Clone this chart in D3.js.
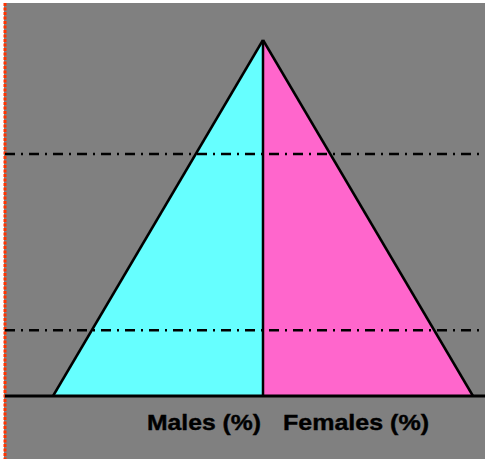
<!DOCTYPE html>
<html>
<head>
<meta charset="utf-8">
<script src="https://cdn.jsdelivr.net/npm/d3@7"></script>
<style>
  html, body { margin: 0; padding: 0; background: #ffffff; }
  svg { display: block; }
</style>
</head>
<body>
<div id="chart"></div>
<script>
// age pyramid outline: age vs share at the base
const ages = [0, 100];
const malePct = [10, 0];
const femalePct = [10, 0];
const refAges = [68, 18.5];
const sexLabels = ["Males (%)", "Females (%)"];

const w = 485;
const h = 459;

const svg = d3.select("#chart")
  .append("svg")
  .attr("width", w)
  .attr("height", h);

// gray plot background
svg.append("rect")
  .attr("x", 4).attr("y", 3)
  .attr("width", w - 4).attr("height", h - 3)
  .attr("fill", "#808080");

// red dotted edge on the left
svg.append("line")
  .attr("x1", 5).attr("x2", 5)
  .attr("y1", 3).attr("y2", h)
  .attr("stroke", "#ff3300")
  .attr("stroke-width", 3)
  .attr("stroke-dasharray", "3,1.5");

const xScale = d3.scaleLinear().domain([-10, 10]).range([53, 473]);
const yScale = d3.scaleLinear().domain([0, 100]).range([396, 40]);

const maleData = ages.map((a, i) => ({age: a, v: -malePct[i]}));
const femaleData = ages.map((a, i) => ({age: a, v: femalePct[i]}));

const area = d3.area()
  .y(d => yScale(d.age))
  .x0(xScale(0))
  .x1(d => xScale(d.v));

svg.append("path")
  .datum(maleData)
  .attr("d", area)
  .attr("fill", "#66ffff");

svg.append("path")
  .datum(femaleData)
  .attr("d", area)
  .attr("fill", "#ff66cc");

// outer edges of the pyramid
const edge = d3.line().x(d => xScale(d.v)).y(d => yScale(d.age));
[maleData, femaleData].forEach(d => {
  svg.append("path")
    .datum(d)
    .attr("d", edge)
    .attr("fill", "none")
    .attr("stroke", "#000")
    .attr("stroke-width", 2.5);
});

// center divider
svg.append("line")
  .attr("x1", xScale(0)).attr("x2", xScale(0))
  .attr("y1", yScale(100)).attr("y2", yScale(0))
  .attr("stroke", "#000")
  .attr("stroke-width", 2.5);

// reference age lines (dash-dot)
svg.selectAll(".ref")
  .data(refAges)
  .enter()
  .append("line")
  .attr("class", "ref")
  .attr("x1", 5).attr("x2", w)
  .attr("y1", d => yScale(d)).attr("y2", d => yScale(d))
  .attr("stroke", "#000")
  .attr("stroke-width", 2.5)
  .attr("stroke-dasharray", "10,6,2,6");

// base line
svg.append("line")
  .attr("x1", 5).attr("x2", w)
  .attr("y1", yScale(0)).attr("y2", yScale(0))
  .attr("stroke", "#000")
  .attr("stroke-width", 3);

// axis labels
const labelStyle = sel => sel
  .attr("lengthAdjust", "spacingAndGlyphs")
  .style("font-family", "'Liberation Sans', Arial, sans-serif")
  .style("font-weight", "bold")
  .style("font-size", "22px")
  .style("stroke", "#000")
  .style("stroke-width", 0.4);

svg.append("text")
  .attr("x", 147).attr("y", 430)
  .attr("textLength", 114)
  .call(labelStyle)
  .text(sexLabels[0]);

svg.append("text")
  .attr("x", 283).attr("y", 430)
  .attr("textLength", 146)
  .call(labelStyle)
  .text(sexLabels[1]);
</script>
</body>
</html>
